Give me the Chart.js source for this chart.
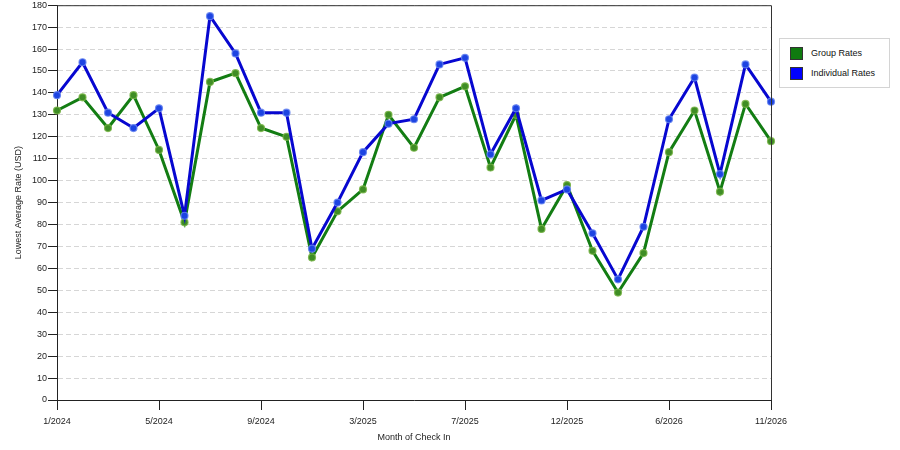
<!DOCTYPE html>
<html>
  <head>
    <meta charset="utf-8">
    <style>
      body { margin: 0; background: #fff; }
      #holder { position: relative; width: 900px; height: 450px; }
      #legend {
        position: absolute; left: 779px; top: 38px; width: 109px; height: 48px;
        border: 1px solid #d4d4d4; background: #fff;
        font-family: "Liberation Sans", Arial, sans-serif; font-size: 9px; color: #111;
      }
      #legend div { position: absolute; left: 10px; height: 12px; line-height: 12px; }
      #legend span.sw { display: inline-block; width: 11px; height: 11px; border: 1px solid #333; vertical-align: top; margin-right: 8px; }
    </style>
  </head>
  <body>
    <div id="holder">
      <canvas id="chart-area" width="900" height="450"></canvas>
      <div id="legend"></div>
    </div>

    <script src="https://cdn.jsdelivr.net/npm/chart.js@4/dist/chart.umd.min.js"></script>
    <script>
        // months shown on the x axis (only every 4th is labelled)
        var months = ['1/2024', '2/2024', '3/2024', '4/2024', '5/2024', '6/2024', '7/2024', '8/2024',
                      '9/2024', '10/2024', '11/2024', '1/2025', '3/2025', '4/2025', '5/2025', '6/2025',
                      '7/2025', '8/2025', '9/2025', '10/2025', '12/2025', '1/2026', '3/2026', '4/2026',
                      '6/2026', '7/2026', '8/2026', '9/2026', '11/2026'];
        var groupRates = [132, 138, 124, 139, 114, 81, 145, 149, 124, 120, 65, 86, 96, 130, 115,
                          138, 143, 106, 130, 78, 98, 68, 49, 67, 113, 132, 95, 135, 118];
        var individualRates = [139, 154, 131, 124, 133, 84, 175, 158, 131, 131, 69, 90, 113, 126, 128,
                               153, 156, 112, 133, 91, 96, 76, 55, 79, 128, 147, 103, 153, 136];
        var yTicks = [0, 180, 10]; // min, max, step

        var seriesNames = ['Group Rates', 'Individual Rates'];
        var seriesColors = ['#137d13', '#0707d0'];
        var swatchColors = ['#0f7a0f', '#0000ff'];

        // top + right frame lines
        var frame = {
            id: 'frame',
            afterDraw: function(chart) {
                var a = chart.chartArea, ctx = chart.ctx;
                ctx.save();
                ctx.strokeStyle = '#333';
                ctx.lineWidth = 1;
                ctx.beginPath();
                ctx.moveTo(a.left, a.top + 0.5);
                ctx.lineTo(a.right + 0.5, a.top + 0.5);
                ctx.lineTo(a.right + 0.5, a.bottom);
                ctx.stroke();
                ctx.restore();
            }
        };

        Chart.defaults.font.family = '"Liberation Sans", Arial, sans-serif';
        Chart.defaults.font.size = 9;
        Chart.defaults.color = '#222';

        var ctx = document.getElementById('chart-area').getContext('2d');
        var chart = new Chart(ctx, {
            type: 'line',
            data: {
                labels: months,
                datasets: [{
                    label: seriesNames[0],
                    data: groupRates,
                    borderColor: seriesColors[0],
                    borderWidth: 3,
                    pointRadius: 3.5,
                    pointBackgroundColor: '#3f8d25',
                    pointBorderColor: 'rgba(120,180,70,0.85)',
                    pointBorderWidth: 1.2,
                    order: 1
                }, {
                    label: seriesNames[1],
                    data: individualRates,
                    borderColor: seriesColors[1],
                    borderWidth: 3,
                    pointRadius: 3.5,
                    pointBackgroundColor: '#1d44e2',
                    pointBorderColor: 'rgba(100,130,240,0.85)',
                    pointBorderWidth: 1.2,
                    order: 0
                }]
            },
            options: {
                responsive: false,
                animation: false,
                layout: { padding: { top: 5, right: 129, left: 0, bottom: 0 } },
                plugins: { legend: { display: false }, tooltip: { enabled: false } },
                scales: {
                    x: {
                        offset: false,
                        afterFit: function(s) { s.height = 50; },
                        grid: {
                            drawOnChartArea: false,
                            tickLength: 10,
                            tickColor: function(c) { return c.index % 4 === 0 ? '#222' : 'transparent'; }
                        },
                        border: { color: '#222' },
                        ticks: {
                            autoSkip: false, maxRotation: 0, padding: 6,
                            callback: function(v, i) { return i % 4 === 0 ? months[i] : ''; }
                        },
                        title: { display: true, text: 'Month of Check In', padding: { top: 0, bottom: 7 } }
                    },
                    y: {
                        min: yTicks[0], max: yTicks[1],
                        afterFit: function(s) { s.width = 57; },
                        grid: { color: '#d6d6d6', tickLength: 9, tickColor: '#222' },
                        border: { color: '#222', dash: [5, 3] },
                        ticks: { stepSize: yTicks[2], padding: 1, font: { lineHeight: 0.8 } },
                        title: { display: true, text: 'Lowest Average Rate (USD)', padding: { top: 13, bottom: 0 } }
                    }
                }
            },
            plugins: [frame]
        });

        // html legend from the series names
        var legend = document.getElementById('legend');
        for (var i = 0; i < seriesNames.length; i++) {
            var row = document.createElement('div');
            row.style.top = (8 + i * 20) + 'px';
            row.innerHTML = '<span class="sw" style="background:' + swatchColors[i] + '"></span>' + seriesNames[i];
            legend.appendChild(row);
        }
    </script>
  </body>
</html>
